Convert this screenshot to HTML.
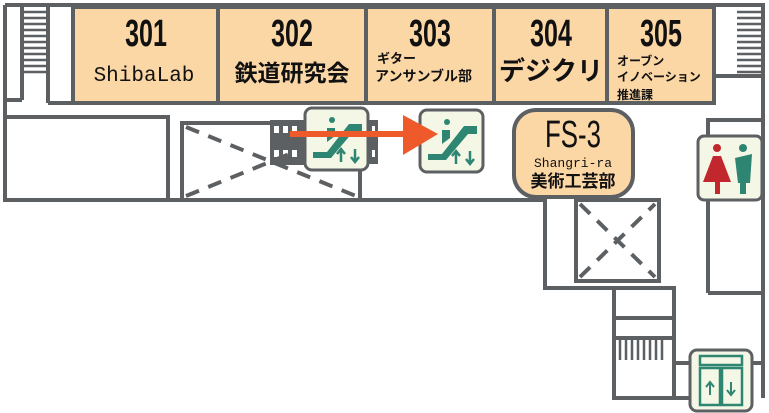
<!DOCTYPE html>
<html><head><meta charset="utf-8"><style>
html,body{margin:0;padding:0;background:#fff;width:769px;height:413px;overflow:hidden}
svg{display:block}
text{font-family:"Liberation Sans","Noto Sans CJK JP",sans-serif;font-weight:bold;fill:#111}
</style></head><body>
<svg width="769" height="413" viewBox="0 0 769 413">
<defs>
<g id="esc">
<rect x="0" y="0" width="63" height="62" rx="7" fill="#f4f6e6" stroke="#5d6063" stroke-width="3"/>
<polygon points="8,50 8,44 22,44 44,16 57,16 57,24 48,24 26,50" fill="#2e8571"/>
<circle cx="27" cy="12" r="3" fill="#2e8571"/>
<polygon points="22,20 30,20 30,28 22,34" fill="#2e8571"/>
<path d="M36 54 V42 M32 46 L36 41 L40 46" stroke="#2e8571" stroke-width="2.5" fill="none"/>
<path d="M50 41 V53 M46 49 L50 54 L54 49" stroke="#2e8571" stroke-width="2.5" fill="none"/>
</g>
</defs>
<g stroke="#5d6063" stroke-width="4" fill="none">
<path d="M5 5 H763 V398"/>
<path d="M5 5 V200 H545 V288 H674 V398"/>
<rect x="73" y="7" width="641" height="96" fill="#fbd7a6"/>
<path d="M218 7 V103 M366 7 V103 M494 7 V103 M607 7 V103"/>
<path d="M48 103 H73 M48 7 V103 M22 7 V100 M5 100 H22 M714 76 H763"/>
<rect x="5" y="117" width="163" height="83"/>
<rect x="182" y="123" width="178" height="77"/>
<path d="M708 293 V120 H763 M708 293 H763"/>
<rect x="576" y="200" width="83" height="81"/>
<path d="M614 288 V398 H690 M614 318 H674 M614 338 H674 M752 363 H763 M674 363 H690"/>
</g>
<g stroke="#5d6063" stroke-width="2.5">
<path d="M24 12H46M24 18H46M24 24H46M24 30H46M24 36H46M24 42H46M24 48H46M24 54H46M24 60H46M24 66H46M24 72H46"/>
<path d="M737 12H762M737 18H762M737 24H762M737 30H762M737 36H762M737 42H762M737 48H762M737 54H762M737 60H762M737 66H762M737 72H762"/>
<path d="M620 340V360M626 340V360M632 340V360M638 340V360M644 340V360M650 340V360M656 340V360M662 340V360"/>
</g>
<rect x="270" y="120" width="38" height="45" fill="#5d6063"/>
<rect x="362" y="120" width="16" height="44" fill="#5d6063"/>
<g fill="#fff"><rect x="274" y="126" width="5" height="7"/><rect x="283" y="126" width="5" height="7"/><rect x="292" y="126" width="5" height="7"/><rect x="274" y="150" width="5" height="7"/><rect x="283" y="150" width="5" height="7"/><rect x="292" y="150" width="5" height="7"/><rect x="366" y="126" width="3" height="7"/><rect x="372" y="126" width="3" height="7"/><rect x="366" y="150" width="3" height="7"/><rect x="372" y="150" width="3" height="7"/></g>
<g stroke="#5d6063" stroke-width="4" stroke-dasharray="14 10">
<path d="M186 127 L356 196 M186 196 L356 127"/>
<path d="M580 204 L655 277 M580 277 L655 204"/>
</g>
<use href="#esc" x="305" y="108"/>
<use href="#esc" x="420" y="110"/>
<rect x="290" y="131" width="116" height="6" fill="#ef5a2a"/>
<polygon points="403,115 438,134 403,155" fill="#ef5a2a"/>
<rect x="514" y="110" width="119" height="87" rx="22" fill="#fbd7a6" stroke="#5d6063" stroke-width="4"/>
<text transform="translate(573,147) scale(0.68,1)" text-anchor="middle" font-size="38" style="font-weight:normal">FS-3</text>
<text x="573" y="167" text-anchor="middle" font-size="13" style="font-family:'Liberation Mono',monospace;font-weight:normal">Shangri-ra</text>
<text x="573" y="187" text-anchor="middle" font-size="17">美術工芸部</text>
<rect x="698" y="136" width="64" height="64" rx="6" fill="#f4f6e6" stroke="#5d6063" stroke-width="3"/>
<circle cx="717" cy="148" r="4" fill="#c1272d"/>
<polygon points="713,156 721,156 731,182 703,182" fill="#c1272d"/>
<rect x="715" y="180" width="5" height="14" fill="#c1272d"/>
<circle cx="743" cy="148" r="4" fill="#2e8571"/>
<polygon points="735,158 752,154 750,183 738,183" fill="#2e8571"/>
<rect x="740" y="180" width="6" height="14" fill="#2e8571"/>
<rect x="690" y="350" width="62" height="61" rx="7" fill="#f4f6e6" stroke="#5d6063" stroke-width="3"/>
<g stroke="#2e8571" stroke-width="2.5" fill="none"><rect x="700" y="356" width="42" height="9"/><rect x="700" y="368" width="20" height="37"/><rect x="722" y="368" width="20" height="37"/></g>
<path d="M710 395V383M706 387L710 382L714 387M731 382V394M727 390L731 395L735 390" stroke="#2e8571" stroke-width="2" fill="none"/>
<g font-size="38">
<text transform="translate(146,46) scale(0.66,1)" text-anchor="middle">301</text>
<text transform="translate(292,46) scale(0.66,1)" text-anchor="middle">302</text>
<text transform="translate(430,46) scale(0.66,1)" text-anchor="middle">303</text>
<text transform="translate(551,46) scale(0.66,1)" text-anchor="middle">304</text>
<text transform="translate(661,46) scale(0.66,1)" text-anchor="middle">305</text>
</g>
<text x="144" y="81" text-anchor="middle" font-size="21" style="font-family:'Liberation Mono',monospace;font-weight:normal">ShibaLab</text>
<text x="292" y="81" text-anchor="middle" font-size="23">鉄道研究会</text>
<text x="377" y="63" font-size="13">ギター</text>
<text x="375" y="81" font-size="14">アンサンブル部</text>
<text x="551" y="80" text-anchor="middle" font-size="26">デジクリ</text>
<text x="617" y="65" font-size="12">オーブン</text>
<text x="617" y="81" font-size="12">イノベーション</text>
<text x="617" y="99" font-size="12">推進課</text>
</svg>
</body></html>
